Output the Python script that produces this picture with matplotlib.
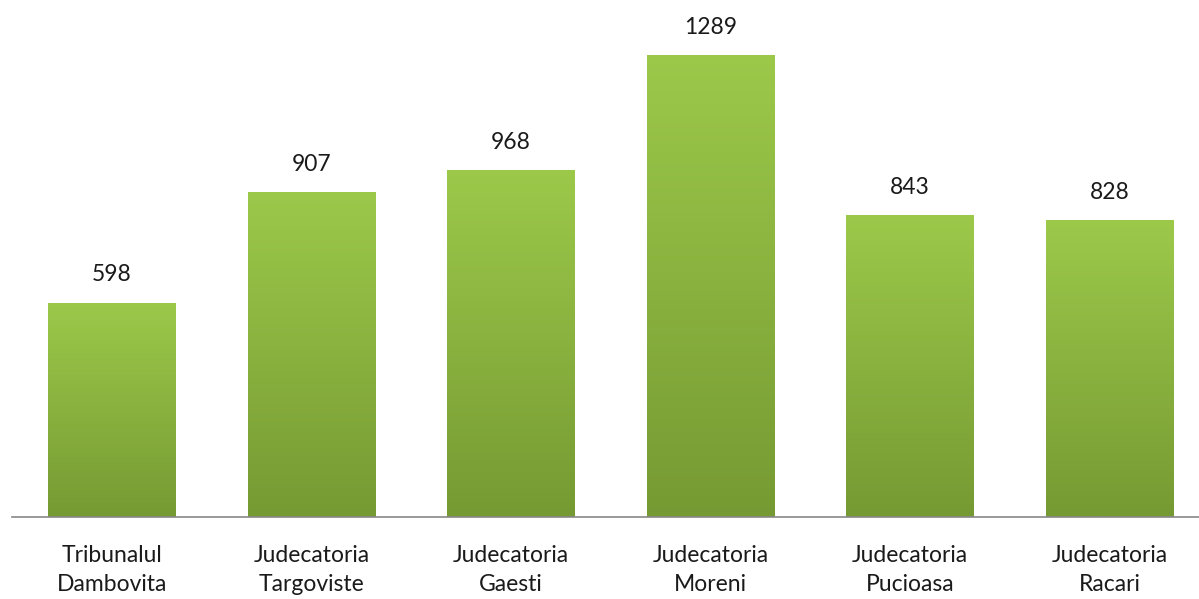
import numpy as np
import matplotlib.pyplot as plt
from matplotlib.colors import LinearSegmentedColormap

# datele graficului
categorii = ["Tribunalul\nDambovita", "Judecatoria\nTargoviste", "Judecatoria\nGaesti",
             "Judecatoria\nMoreni", "Judecatoria\nPucioasa", "Judecatoria\nRacari"]
valori = [598, 907, 968, 1289, 843, 828]

plt.rcParams['font.family'] = ['Lato', 'DejaVu Sans']

fig = plt.figure(figsize=(11.99, 5.99), dpi=100)
ax = fig.add_axes([12 / 1199, 82 / 599, 1 - 12 / 1199, 517 / 599])

x = np.arange(len(valori))
bars = ax.bar(x, valori, width=0.64, color="none", edgecolor="none")

# gradient vertical pe fiecare bara
cmap = LinearSegmentedColormap.from_list("verde", ["#769A33", "#9CC94A"])
grad = np.linspace(0, 1, 256).reshape(-1, 1)
for b in bars:
    x0, w, h = b.get_x(), b.get_width(), b.get_height()
    im = ax.imshow(grad, cmap=cmap, aspect="auto", origin="lower",
                   extent=[x0, x0 + w, 0, h], zorder=2)
    im.set_clip_path(b)
    ax.text(x0 + w / 2, h + 48, str(int(h)), ha="center", va="bottom",
            fontsize=16.5, color="#1a1a1a")

ax.set_xlim(-0.5, 5.447)
ax.set_ylim(0, 1442)
ax.set_xticks(x)
ax.set_xticklabels(categorii, fontsize=16.5, color="#1a1a1a", linespacing=1.5)
ax.tick_params(axis="x", length=0, pad=20)
ax.set_yticks([])
for s in ["top", "right", "left"]:
    ax.spines[s].set_visible(False)
ax.spines["bottom"].set_color("#888888")
ax.spines["bottom"].set_linewidth(1.2)
ax.spines["bottom"].set_zorder(3)

fig.savefig("out.png", dpi=100)
